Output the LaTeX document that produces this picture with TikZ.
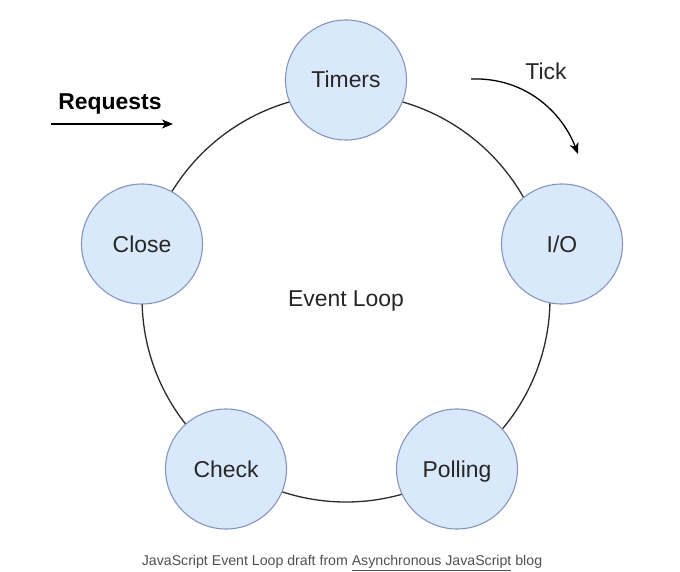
\documentclass[tikz,border=0pt]{standalone}
\usepackage{fontspec}
\setmainfont{Liberation Sans}
\usetikzlibrary{shapes.geometric,arrows.meta}
\definecolor{phasefill}{HTML}{DAE8FC}
\definecolor{phasedraw}{HTML}{8496BF}
\definecolor{inktext}{HTML}{262626}
\definecolor{linecol}{HTML}{2B2B2B}
\definecolor{captext}{HTML}{505050}
\tikzset{
  evenbox/.style={text height=17bp, text depth=1bp},
  phase/.style={ellipse, draw=phasedraw, line width=1.1bp, fill=phasefill,
    minimum width=121bp, minimum height=120bp, inner sep=0pt, evenbox,
    text=inktext, font=\fontsize{23}{27}\selectfont},
  bigtext/.style={text=inktext, font=\fontsize{23}{27}\selectfont},
  flow/.style={draw=linecol, line width=1.3bp},
  arrowline/.style={draw=black, line width=1.3bp, -{Stealth[length=11bp,width=9bp,inset=3bp]}}
}
\begin{document}
\begin{tikzpicture}[x=1bp,y=-1bp]
  \useasboundingbox[fill=white] (0,0) rectangle (680,572);
  % the loop
  \node[circle, flow, minimum size=408bp, inner sep=0pt, bigtext, evenbox] (loop) at (346,298) {Event Loop};
  % phases
  \node[phase] (timers) at (346,80) {Timers};
  \node[phase] (io) at (562,244) {I/O};
  \node[phase] (close) at (142,244) {Close};
  \node[phase] (check) at (226,469) {Check};
  \node[phase] (polling) at (457,469) {Polling};
  % requests
  \node[bigtext, evenbox, font=\fontsize{23}{27}\selectfont\bfseries, text=black] (req) at (110,102) {Requests};
  \coordinate (reqA) at (51,124);
  \coordinate (reqB) at (173,124);
  \draw[arrowline] (reqA) -- (reqB);
  % tick
  \node[bigtext, evenbox] (tick) at (546,72) {Tick};
  \coordinate (tickA) at (471,79);
  \coordinate (tickB) at (578,154);
  \draw[arrowline] (tickA) .. controls (525,77) and (562,112) .. (tickB);
  % caption
  \node[text=captext, font=\fontsize{14.2}{17}\selectfont] (cap) at (342,563)
    {JavaScript Event Loop draft from \underline{Asynchronous JavaScript} blog};
\end{tikzpicture}
\end{document}
